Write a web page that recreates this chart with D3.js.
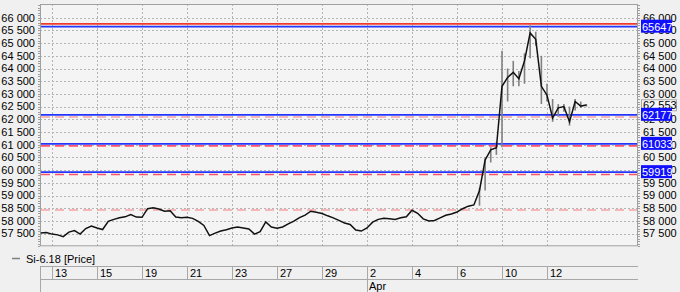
<!DOCTYPE html>
<html><head><meta charset="utf-8">
<script src="https://cdn.jsdelivr.net/npm/d3@7"></script>
<style>
html,body{margin:0;padding:0;background:#f0f0f0;}
svg{display:block;font-family:"Liberation Sans",Arial,sans-serif;}
</style></head>
<body><svg id="c" width="680" height="292"></svg>
<script>
// ---- data ----
// closes sampled every quarter trading day, starting half a day before 13 Mar
const startDay = -0.5;
const stepDay = 0.25;
const closes = [
57520,57540,57480,57450,57380,57560,57620,57480,57700,57800,
57720,57660,57980,58060,58120,58160,58250,58150,58140,58480,
58520,58470,58380,58400,58150,58120,58140,58100,57980,57820,
57420,57520,57600,57650,57720,57760,57720,57680,57480,57580,
57960,57760,57710,57760,57880,57990,58130,58230,58380,58340,
58290,58200,58120,58020,57920,57860,57640,57600,57720,57950,
58060,58100,58080,58060,58120,58160,58420,58300,58080,58000,
58020,58120,58220,58270,58350,58480,58580,58630,59200,60400,
60800,60880,63300,63650,63850,63600,64300,65400,65150,63300,
62950,62050,62450,62500,61900,62700,62520,62560
];
// high/low ranges for the volatile bars (from index wickStart)
const wickStart = 78;
const wickLows  = [58600,59200,60300,60600,60900,62700,63300,63300,63400,64400,64900,62600,62700,61900,62100,62300,61750,62350,62450,62500];
const wickHighs = [59300,60500,60900,61100,64700,64000,64300,63900,64600,65700,65450,64500,63400,62800,62600,62600,62500,62800,62700,62600];

const dateLabels = ["13","15","19","21","23","27","29","2","4","6","10","12"];
const dateDays   = [0,2,4,6,8,10,12,14,16,18,20,22];
const monthLabels = ["Apr"];
const monthDays   = [14];

const yTicks = [57500,58000,58500,59000,59500,60000,60500,61000,61500,62000,62500,63000,63500,64000,64500,65000,65500,66000];
const blueLevels = [65647,62177,61033,59919];
const redSolidLevels = [65760];
const redDashLevels = [60953,59827];
const pinkDashLevels = [62090,58430];
const lastPrice = 62553;
const seriesName = "Si-6.18 [Price]";

// ---- layout ----
const L=40, R=638, T=4, B=246.3;
const svg = d3.select("#c");
const x = d3.scaleLinear().domain([-0.5333, 26.0444]).range([L, R]);
const y = d3.scaleLinear().domain([57000, 66540]).range([B, T]);
const fmt = v => d3.format(",")(v).replace(/,/g," ");

svg.append("rect").attr("x",L).attr("y",T).attr("width",R-L).attr("height",B-T).attr("fill","#f4f4f4");

// grid
const g = svg.append("g");
g.selectAll(".hg").data(yTicks).join("line")
  .attr("x1",L).attr("x2",R).attr("y1",d=>Math.round(y(d))+0.5).attr("y2",d=>Math.round(y(d))+0.5)
  .attr("stroke","#b4b4b4").attr("stroke-dasharray","2,2");
g.selectAll(".vg").data(dateDays).join("line")
  .attr("x1",d=>Math.round(x(d))+0.5).attr("x2",d=>Math.round(x(d))+0.5).attr("y1",T).attr("y2",B)
  .attr("stroke","#b4b4b4").attr("stroke-dasharray","2,2");

// minor ticks on left and right edges
const minor = d3.range(57000, 66600, 100);
g.selectAll(".ml").data(minor).join("line")
  .attr("x1",L-2).attr("x2",L).attr("y1",d=>Math.round(y(d))+0.5).attr("y2",d=>Math.round(y(d))+0.5).attr("stroke","#a0a0a0");
g.selectAll(".mr").data(minor).join("line")
  .attr("x1",R).attr("x2",R+2).attr("y1",d=>Math.round(y(d))+0.5).attr("y2",d=>Math.round(y(d))+0.5).attr("stroke","#a0a0a0");

// frame
svg.append("rect").attr("x",L+0.5).attr("y",T+0.5).attr("width",R-L-1).attr("height",B-T-1)
  .attr("fill","none").attr("stroke","#a0a0a0");

// level lines
const lv = svg.append("g");
lv.selectAll(".pd").data(pinkDashLevels).join("line")
  .attr("x1",L+1).attr("x2",R-1).attr("y1",d=>y(d)).attr("y2",d=>y(d))
  .attr("stroke","#f5a2a2").attr("stroke-width",1.6).attr("stroke-dasharray","9,5");
lv.selectAll(".rd").data(redDashLevels).join("line")
  .attr("x1",L+1).attr("x2",R-1).attr("y1",d=>y(d)).attr("y2",d=>y(d))
  .attr("stroke","#ff5468").attr("stroke-width",1.6).attr("stroke-dasharray","9,5");
lv.selectAll(".rs").data(redSolidLevels).join("line")
  .attr("x1",L+1).attr("x2",R-1).attr("y1",d=>y(d)).attr("y2",d=>y(d))
  .attr("stroke","#f03a2a").attr("stroke-width",1.8);
lv.selectAll(".bl").data(blueLevels).join("line")
  .attr("x1",L+1).attr("x2",R-1).attr("y1",d=>y(d)).attr("y2",d=>y(d))
  .attr("stroke","#2236ff").attr("stroke-width",1.8);

// price
const dayOf = i => startDay + stepDay*i;
const pg = svg.append("g");
pg.selectAll(".wk").data(wickLows.map((lo,i)=>({i:i+wickStart, lo, hi:wickHighs[i]}))).join("line")
  .attr("x1",d=>x(dayOf(d.i))).attr("x2",d=>x(dayOf(d.i)))
  .attr("y1",d=>y(d.lo)).attr("y2",d=>y(d.hi))
  .attr("stroke","#808080").attr("stroke-width",1.6);
pg.append("path").datum(closes)
  .attr("d", d3.line().x((d,i)=>x(dayOf(i))).y(d=>y(d)))
  .attr("fill","none").attr("stroke","#111").attr("stroke-width",1.5).attr("stroke-linejoin","miter");

// tick labels
const tl = svg.append("g").attr("font-size",11).attr("fill","#000");
tl.selectAll(".lt").data(yTicks).join("text")
  .attr("x",35).attr("y",d=>y(d)).attr("dy","0.35em").attr("text-anchor","end").text(fmt);
tl.selectAll(".rt").data(yTicks).join("text")
  .attr("x",643).attr("y",d=>y(d)).attr("dy","0.35em").text(fmt);

// last price box
const lp = svg.append("g");
lp.append("rect").attr("x",641.5).attr("y",y(lastPrice)-5.5).attr("width",35).attr("height",11)
  .attr("fill","#f6f6f6").attr("stroke","#a8a8a8");
lp.append("text").attr("x",643).attr("y",y(lastPrice)).attr("dy","0.35em").attr("font-size",11).text(fmt(lastPrice));

// blue level labels
const bb = svg.append("g").selectAll("g").data(blueLevels).join("g");
bb.append("rect").attr("x",641).attr("y",d=>y(d)-7).attr("width",31).attr("height",13).attr("fill","#1010ff");
bb.append("text").attr("x",642).attr("y",d=>y(d)).attr("dy","0.35em").attr("font-size",11).attr("fill","#fff").text(d=>d);

// legend
svg.append("line").attr("x1",12).attr("x2",20).attr("y1",258.5).attr("y2",258.5).attr("stroke","#808080").attr("stroke-width",1.5);
svg.append("text").attr("x",26).attr("y",262.5).attr("font-size",11).text(seriesName);

// date row
const dr = svg.append("g");
[266.5, 279.5].forEach(yy=>dr.append("line").attr("x1",L).attr("x2",R).attr("y1",yy).attr("y2",yy).attr("stroke","#a8a8a8"));
dr.append("line").attr("x1",L+0.5).attr("x2",L+0.5).attr("y1",266).attr("y2",292).attr("stroke","#a8a8a8");
dr.selectAll(".ds").data(dateDays).join("line")
  .attr("x1",d=>Math.round(x(d))+0.5).attr("x2",d=>Math.round(x(d))+0.5).attr("y1",266).attr("y2",279.5).attr("stroke","#a8a8a8");
dr.selectAll(".dl").data(dateDays).join("text")
  .attr("x",d=>Math.round(x(d))+3).attr("y",277).attr("font-size",11).text((d,i)=>dateLabels[i]);
dr.selectAll(".ms").data(monthDays).join("line")
  .attr("x1",d=>Math.round(x(d))+0.5).attr("x2",d=>Math.round(x(d))+0.5).attr("y1",279.5).attr("y2",292).attr("stroke","#a8a8a8");
dr.selectAll(".mt").data(monthDays).join("text")
  .attr("x",d=>Math.round(x(d))+2).attr("y",290).attr("font-size",11).text((d,i)=>monthLabels[i]);
</script></body></html>
